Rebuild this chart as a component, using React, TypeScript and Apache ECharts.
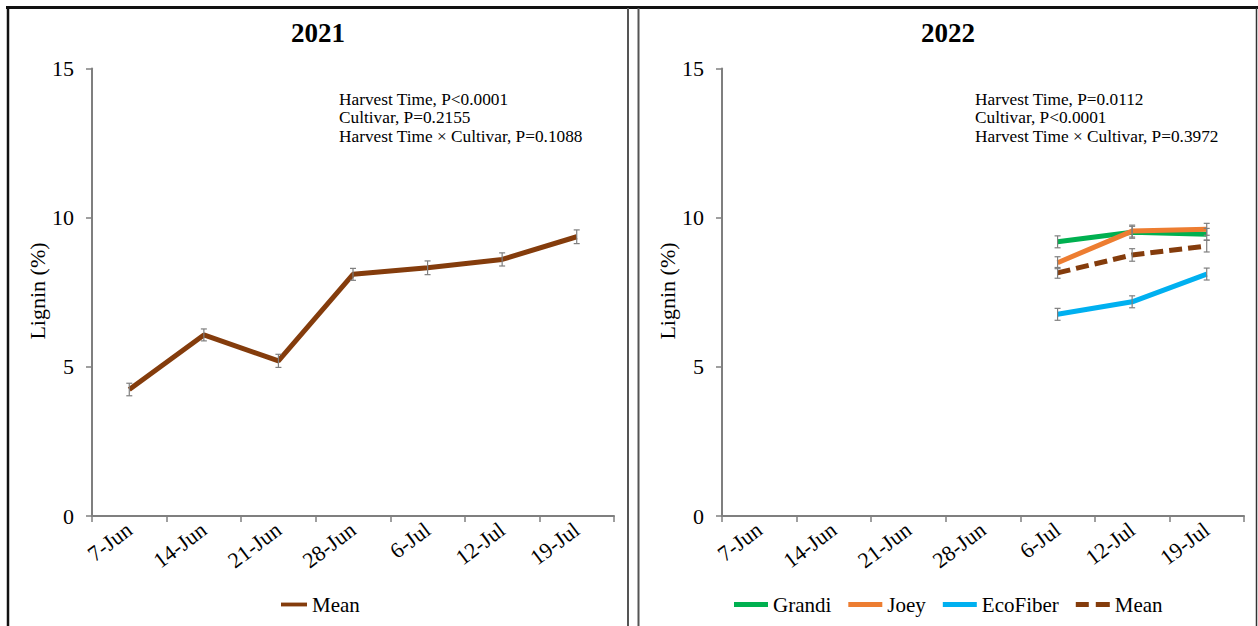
import React, { useEffect, useRef } from "react";
import * as echarts from "echarts";

// Harvest dates shared by both seasons
const categories = ["7-Jun", "14-Jun", "21-Jun", "28-Jun", "6-Jul", "12-Jul", "19-Jul"];

// 2021 season: lignin (%) mean across cultivars, with standard errors
const mean2021 = [4.24, 6.07, 5.2, 8.1, 8.32, 8.6, 9.36];
const err2021 = [0.21, 0.2, 0.22, 0.2, 0.23, 0.22, 0.23];

// 2022 season: lignin (%) per cultivar (sampled from 6-Jul onward)
const grandi2022 = [null, null, null, null, 9.19, 9.51, 9.44];
const joey2022 = [null, null, null, null, 8.49, 9.55, 9.61];
const ecoFiber2022 = [null, null, null, null, 6.76, 7.18, 8.11];
const mean2022 = [null, null, null, null, 8.15, 8.75, 9.05];
const grandiErr = [null, null, null, null, 0.2, 0.2, 0.2];
const joeyErr = [null, null, null, null, 0.2, 0.2, 0.2];
const ecoFiberErr = [null, null, null, null, 0.2, 0.2, 0.2];
const meanErr2022 = [null, null, null, null, 0.18, 0.21, 0.2];

const yTicks = [0, 5, 10, 15];

const stats2021 = [
  "Harvest Time, P<0.0001",
  "Cultivar, P=0.2155",
  "Harvest Time \u00d7 Cultivar, P=0.1088",
];
const stats2022 = [
  "Harvest Time, P=0.0112",
  "Cultivar, P<0.0001",
  "Harvest Time \u00d7 Cultivar, P=0.3972",
];

const FONT = '"Liberation Serif", "Times New Roman", serif';
const AXIS_GRAY = "#7f7f7f";
const BROWN = "#843C0C";
const GREEN = "#00B050";
const ORANGE = "#ED7D31";
const BLUE = "#00B0F0";

// legend swatches: a solid bar and a two-dash bar
const SOLID_ICON = "path://M0,0h34v5h-34z";
const DASH_ICON = "path://M0,0h13v5h-13zM20,0h14v5h-14z";

type Num = number | null;

function errorBars(axisIndex: number, means: Num[], errs: Num[]) {
  const data: number[][] = [];
  means.forEach((m, i) => {
    const e = errs[i];
    if (m != null && e != null) data.push([i, m - e, m + e]);
  });
  return {
    type: "custom",
    xAxisIndex: axisIndex,
    yAxisIndex: axisIndex,
    z: 5,
    silent: true,
    data,
    encode: { x: 0, y: [1, 2] },
    renderItem: (_params: any, api: any) => {
      const idx = api.value(0);
      const lo = api.coord([idx, api.value(1)]);
      const hi = api.coord([idx, api.value(2)]);
      const cap = 3;
      const style = { stroke: AXIS_GRAY, lineWidth: 1.2 };
      return {
        type: "group",
        children: [
          { type: "line", shape: { x1: lo[0], y1: lo[1], x2: hi[0], y2: hi[1] }, style },
          { type: "line", shape: { x1: lo[0] - cap, y1: lo[1], x2: lo[0] + cap, y2: lo[1] }, style },
          { type: "line", shape: { x1: hi[0] - cap, y1: hi[1], x2: hi[0] + cap, y2: hi[1] }, style },
        ],
      };
    },
  };
}

function lineSeries(name: string, axisIndex: number, data: Num[], color: string, dashed = false) {
  return {
    type: "line",
    name,
    xAxisIndex: axisIndex,
    yAxisIndex: axisIndex,
    data,
    symbol: "none",
    showSymbol: false,
    connectNulls: false,
    z: 3,
    lineStyle: {
      color,
      width: 5,
      type: dashed ? [13, 6] : "solid",
      cap: "butt",
    },
    itemStyle: { color },
  };
}

function xAxis(gridIndex: number) {
  return {
    type: "category",
    gridIndex,
    data: categories,
    boundaryGap: true,
    axisLine: { show: true, lineStyle: { color: AXIS_GRAY, width: 2 } },
    axisTick: { show: true, alignWithLabel: false, length: 6, lineStyle: { color: AXIS_GRAY, width: 1.5 } },
    axisLabel: {
      rotate: 37,
      margin: 11,
      interval: 0,
      color: "#000",
      fontFamily: FONT,
      fontSize: 22,
    },
    splitLine: { show: false },
  };
}

function yAxis(gridIndex: number) {
  return {
    type: "value",
    gridIndex,
    min: yTicks[0],
    max: yTicks[yTicks.length - 1],
    interval: yTicks[1] - yTicks[0],
    axisLine: { show: true, lineStyle: { color: AXIS_GRAY, width: 2 } },
    axisTick: { show: true, length: 6, lineStyle: { color: AXIS_GRAY, width: 1.5 } },
    axisLabel: { color: "#000", fontFamily: FONT, fontSize: 22, margin: 18 },
    splitLine: { show: false },
  };
}

function text(x: number, y: number, t: string, extra: any = {}, style: any = {}) {
  return {
    type: "text",
    x,
    y,
    silent: true,
    ...extra,
    style: {
      text: t,
      fill: "#000",
      fontFamily: FONT,
      fontSize: 21,
      align: "center",
      verticalAlign: "middle",
      ...style,
    },
  };
}

function vline(x: number, y1: number, y2: number, stroke: string, lineWidth: number) {
  return { type: "line", silent: true, shape: { x1: x, y1, x2: x, y2 }, style: { stroke, lineWidth } };
}

export default function App() {
  const ref = useRef<HTMLDivElement>(null);

  useEffect(() => {
    if (!ref.current) return;
    const chart = echarts.init(ref.current, null, { renderer: "svg" });

    const legendText = (name: string) => name.replace(/ \(\d{4}\)$/, "");
    const legendTextStyle = { fontFamily: FONT, fontSize: 21, color: "#000" };

    chart.setOption({
      animation: false,
      backgroundColor: "#ffffff",
      textStyle: { fontFamily: FONT, color: "#000" },
      grid: [
        { left: 92, top: 68.5, width: 522, height: 447.5, containLabel: false },
        { left: 722, top: 68.5, width: 522, height: 447.5, containLabel: false },
      ],
      xAxis: [xAxis(0), xAxis(1)],
      yAxis: [yAxis(0), yAxis(1)],
      legend: [
        {
          data: [{ name: "Mean (2021)", icon: SOLID_ICON }],
          left: 281,
          top: 594,
          padding: 0,
          itemWidth: 26,
          itemHeight: 5,
          itemGap: 17,
          formatter: legendText,
          selectedMode: false,
          textStyle: legendTextStyle,
        },
        {
          data: [
            { name: "Grandi", icon: SOLID_ICON },
            { name: "Joey", icon: SOLID_ICON },
            { name: "EcoFiber", icon: SOLID_ICON },
            { name: "Mean (2022)", icon: DASH_ICON },
          ],
          left: 734,
          top: 594,
          padding: 0,
          itemWidth: 34,
          itemHeight: 5,
          itemGap: 17,
          formatter: legendText,
          selectedMode: false,
          textStyle: legendTextStyle,
        },
      ],
      series: [
        lineSeries("Mean (2021)", 0, mean2021, BROWN),
        errorBars(0, mean2021, err2021),
        lineSeries("Grandi", 1, grandi2022, GREEN),
        lineSeries("Joey", 1, joey2022, ORANGE),
        lineSeries("EcoFiber", 1, ecoFiber2022, BLUE),
        lineSeries("Mean (2022)", 1, mean2022, BROWN, true),
        errorBars(1, grandi2022, grandiErr),
        errorBars(1, joey2022, joeyErr),
        errorBars(1, ecoFiber2022, ecoFiberErr),
        errorBars(1, mean2022, meanErr2022),
      ],
      graphic: [
        // panel frames
        { type: "line", silent: true, shape: { x1: 6, y1: 7.5, x2: 1258, y2: 7.5 }, style: { stroke: "#111", lineWidth: 3 } },
        vline(8, 6, 626, "#111", 2.5),
        vline(628, 8, 626, "#555", 2),
        vline(638.5, 8, 626, "#555", 2),
        vline(1256.5, 8, 626, "#333", 1.5),
        // panel titles
        text(318, 33, "2021", {}, { fontSize: 27, fontWeight: "bold" }),
        text(948, 33, "2022", {}, { fontSize: 27, fontWeight: "bold" }),
        // y-axis names
        text(37, 291, "Lignin (%)", { rotation: Math.PI / 2 }, { fontSize: 22 }),
        text(667, 291, "Lignin (%)", { rotation: Math.PI / 2 }, { fontSize: 22 }),
        // ANOVA results
        text(339, 90, stats2021.join("\n"), {}, { fontSize: 17.3, align: "left", verticalAlign: "top", lineHeight: 18.5 }),
        text(975, 90, stats2022.join("\n"), {}, { fontSize: 17.3, align: "left", verticalAlign: "top", lineHeight: 18.5 }),
      ],
    });

    return () => chart.dispose();
  }, []);

  return (
    <div
      ref={ref}
      style={{ position: "fixed", left: 0, top: 0, width: 1258, height: 626, background: "#fff" }}
    />
  );
}
